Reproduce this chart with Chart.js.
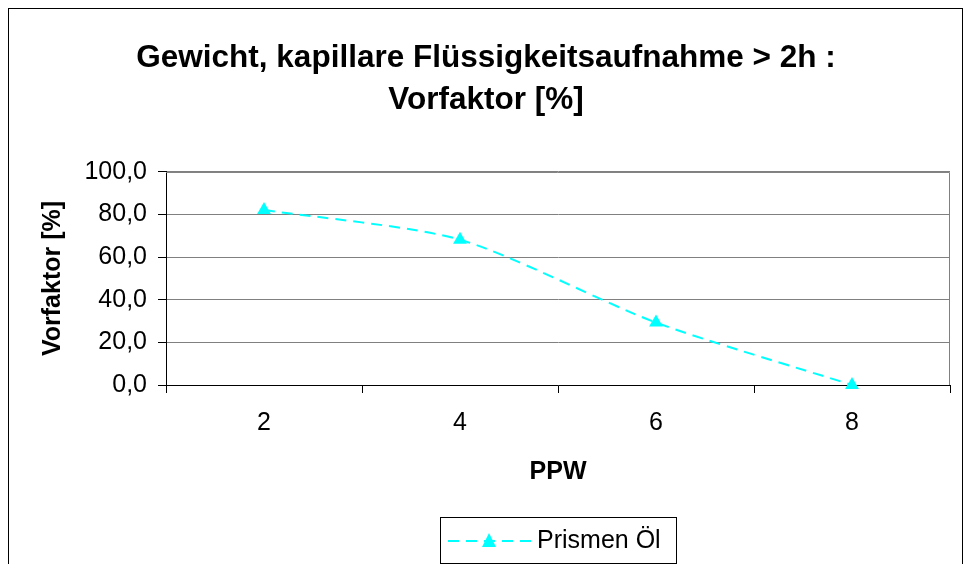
<!DOCTYPE html>
<html>
<head>
<meta charset="utf-8">
<script src="https://cdn.jsdelivr.net/npm/chart.js"></script>
<style>
    html, body { margin: 0; padding: 0; background: #fff; }
    #wrap { position: relative; width: 966px; height: 564px; }
    #frame { position: absolute; left: 8px; top: 8px; width: 955px; height: 570px; border: 1px solid #000; box-sizing: border-box; pointer-events: none; }
    canvas { position: absolute; left: 0; top: 0; }
</style>
</head>
<body>
<div id="wrap">
    <canvas id="chart" width="966" height="564"></canvas>
    <div id="frame"></div>
</div>
<script>
// PPW categories and the Vorfaktor values for "Prismen Öl"
const categories = ['2', '4', '6', '8'];
const prismenOel = [82.2, 68.2, 29.3, 0.0];
const seriesName = 'Prismen Öl';
const titleLines = ['Gewicht, kapillare Flüssigkeitsaufnahme > 2h :', 'Vorfaktor [%]'];

const FONT = 'Arial, "Liberation Sans", sans-serif';
const CYAN = '#00ffff';

// Boxed legend under the chart: dashed line with a triangle marker
const boxLegend = {
    id: 'boxLegend',
    afterDraw(chart) {
        const ctx = chart.ctx;
        const x = 440, y = 517, w = 236, h = 46;
        ctx.save();
        ctx.strokeStyle = '#000';
        ctx.lineWidth = 1;
        ctx.strokeRect(x + 0.5, y + 0.5, w, h);

        const ly = y + h / 2 + 1;
        ctx.strokeStyle = CYAN;
        ctx.lineWidth = 2;
        ctx.setLineDash([11, 7]);
        ctx.beginPath();
        ctx.moveTo(x + 8, ly);
        ctx.lineTo(x + 92, ly);
        ctx.stroke();
        ctx.setLineDash([]);

        ctx.fillStyle = CYAN;
        ctx.beginPath();
        ctx.moveTo(x + 49, ly - 8);
        ctx.lineTo(x + 56, ly + 6);
        ctx.lineTo(x + 42, ly + 6);
        ctx.closePath();
        ctx.fill();

        ctx.fillStyle = '#000';
        ctx.font = '25px ' + FONT;
        ctx.textBaseline = 'middle';
        ctx.fillText(seriesName, x + 97, ly);
        ctx.restore();
    }
};

// Gray frame around the plot area
const plotFrame = {
    id: 'plotFrame',
    beforeDatasetsDraw(chart) {
        const a = chart.chartArea;
        const ctx = chart.ctx;
        ctx.save();
        ctx.strokeStyle = '#808080';
        ctx.lineWidth = 1;
        ctx.beginPath();
        ctx.moveTo(a.left, a.top + 0.5);
        ctx.lineTo(a.right - 0.5, a.top + 0.5);
        ctx.lineTo(a.right - 0.5, a.bottom);
        ctx.stroke();
        ctx.restore();
    }
};

new Chart(document.getElementById('chart'), {
    type: 'line',
    data: {
        labels: categories,
        datasets: [{
            label: seriesName,
            data: prismenOel,
            borderColor: CYAN,
            backgroundColor: CYAN,
            borderWidth: 2,
            borderDash: [11, 7],
            tension: 0.25,
            pointStyle: 'triangle',
            pointRadius: 8,
            pointBorderWidth: 0,
            clip: false
        }]
    },
    options: {
        responsive: false,
        animation: false,
        layout: { padding: { left: 22, right: 16, top: 0, bottom: 69 } },
        plugins: {
            legend: { display: false },
            tooltip: { enabled: false },
            title: {
                display: true,
                text: titleLines,
                color: '#000',
                font: { family: FONT, size: 31.5, weight: 'bold', lineHeight: 1.333 },
                padding: { top: 37, bottom: 51 }
            }
        },
        scales: {
            x: {
                offset: true,
                grid: {
                    offset: true,
                    drawOnChartArea: false,
                    color: '#000',
                    tickLength: 8
                },
                border: { color: '#000', width: 1 },
                ticks: {
                    color: '#000',
                    padding: 15,
                    font: { family: FONT, size: 25 }
                },
                title: {
                    display: true,
                    text: 'PPW',
                    color: '#000',
                    font: { family: FONT, size: 25, weight: 'bold' },
                    padding: { top: 0, bottom: 8 }
                },
                afterFit(scale) { scale.height = 110; }
            },
            y: {
                min: 0,
                max: 100,
                ticks: {
                    stepSize: 20,
                    color: '#000',
                    padding: 11,
                    font: { family: FONT, size: 25 },
                    callback: v => v.toFixed(1).replace('.', ',')
                },
                grid: {
                    color: '#808080',
                    tickColor: '#000',
                    tickLength: 8
                },
                border: { color: '#000', width: 1 },
                title: {
                    display: true,
                    text: 'Vorfaktor [%]',
                    color: '#000',
                    font: { family: FONT, size: 25, weight: 'bold' },
                    padding: { top: 16, bottom: 0 }
                },
                afterFit(scale) { scale.width = 144; }
            }
        }
    },
    plugins: [plotFrame, boxLegend]
});
</script>
</body>
</html>
